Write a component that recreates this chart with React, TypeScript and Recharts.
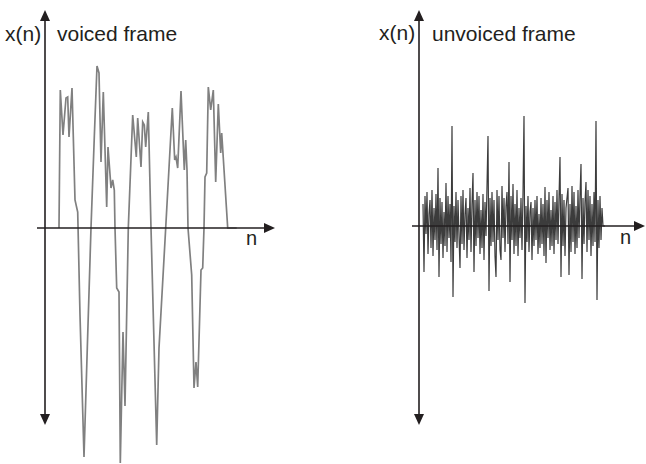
import React from 'react';
import { LineChart, Line, XAxis, YAxis, ReferenceLine } from 'recharts';

// voiced frame: sample position and amplitude
const voicedN = [
  14, 15.3, 18, 21, 22.7, 24, 27, 30, 32.7, 35, 39, 42.3, 46,
  49.3, 52, 54, 56, 58.3, 61.7, 63, 66, 67.7, 69.3, 70, 71.7, 74, 75.3, 78, 80, 83.3,
  87.7, 91.3, 92.7, 96, 97.7, 99.3, 100.7, 103.3, 106, 111.7, 114, 120.7,
  127.3, 129.7, 131, 132.7, 136, 139.3, 140.7, 142, 143, 146.7, 149, 151, 152.7, 156, 157.7, 159,
  160, 161.7, 163.3, 165.7, 168.3, 170.7, 173.3, 175.7, 176.7, 182.7, 191.7,
];
const voicedAmp = [
  0, 138, 93, 130, 131, 91, 140, 28, 16, -87, -229, -120, 0,
  91, 162, 155, 66, 136, 21, 81, 40, 48, 38, 0, -60, -64, -235, -104, -178, 0,
  113, 71, 110, 61, 106, 103, 81, 116, 0, -217, -120, 0,
  120, 68, 71, 60, 137, 58, 88, 58, 0, -47, -160, -134, -159, -42, -40, 0,
  51, 55, 141, 118, 138, 46, 124, 75, 95, 0, 0,
];

// unvoiced frame: one value per sample, starting at sample 4
const unvoicedStart = 4;
const unvoicedAmp = [
  22, -46, 30, -8, 34, -28, 12, 26, -22, 36,
  -30, 18, -14, 32, -24, 58, -51, 28, -18, 24,
  -32, 14, -20, 43, -26, 30, -12, 22, -36, 100,
  -71, 20, -16, 34, -22, 26, -10, -42, 30, -18,
  36, -24, 12, 28, -32, 18, -14, 38, -26, 22,
  53, -46, 26, -20, 34, -12, 30, -28, 16, -22,
  32, -34, 24, -10, 40, 90, -65, 28, -20, 34,
  -16, 26, -30, -51, 36, -14, 30, -24, -34, 40,
  -12, 28, -26, 20, 34, -18, 64, -56, 30, -14,
  42, -28, 22, -20, 36, -30, 18, -12, 28, -24,
  32, 110, -77, 20, -16, 30, -26, 14, 24, -34,
  18, -20, 26, -14, 30, -28, 12, -22, 28, -18,
  22, -30, 39, -37, 26, -12, 34, -24, 16, -20,
  30, -28, 24, -14, 36, -18, 28, 69, -51, 32,
  -20, 26, -30, 18, 28, 38, -49, 22, -26, 40,
  -16, 34, -28, 20, -22, 36, -12, 30, 62, -53,
  28, -18, 24, 44, -26, 36, -14, 30, -30, 22,
  -20, 34, -16, 105, -74, 26, -22, 30, -14, 18,
  0, 0, 0,
];

const voicedData = voicedN.map((n, i) => ({ n, x: voicedAmp[i] }));
const unvoicedData = unvoicedAmp.map((x, i) => ({ n: i + unvoicedStart, x }));

const INK = '#231f20';
const font = '"Liberation Sans", Arial, sans-serif';

const arrowShape = (atStart: boolean, atEnd: boolean) => (props: any) => {
  const { x1, y1, x2, y2 } = props;
  const len = Math.hypot(x2 - x1, y2 - y1) || 1;
  const ux = (x2 - x1) / len;
  const uy = (y2 - y1) / len;
  const head = 11;
  const half = 5;
  const tri = (tx: number, ty: number, dx: number, dy: number) => {
    const bx = tx - dx * head;
    const by = ty - dy * head;
    return `${tx},${ty} ${bx - dy * half},${by + dx * half} ${bx + dy * half},${by - dx * half}`;
  };
  const sx = atStart ? x1 + ux * (head - 1) : x1;
  const sy = atStart ? y1 + uy * (head - 1) : y1;
  const ex = atEnd ? x2 - ux * (head - 1) : x2;
  const ey = atEnd ? y2 - uy * (head - 1) : y2;
  return (
    <g>
      <line x1={sx} y1={sy} x2={ex} y2={ey} stroke={INK} strokeWidth={1.6} />
      {atStart && <polygon points={tri(x1, y1, -ux, -uy)} fill={INK} />}
      {atEnd && <polygon points={tri(x2, y2, ux, uy)} fill={INK} />}
    </g>
  );
};

const label = (text: string, left: number, top: number, size = 21) => (
  <div
    style={{
      position: 'absolute',
      left,
      top,
      fontFamily: font,
      fontSize: size,
      lineHeight: `${size}px`,
      color: INK,
      whiteSpace: 'nowrap',
    }}
  >
    {text}
  </div>
);

export default function App() {
  return (
    <div style={{ position: 'fixed', left: 0, top: 0, width: 646, height: 464, background: '#fff' }}>
      {/* voiced frame */}
      <div style={{ position: 'absolute', left: 0, top: 0 }}>
        <LineChart width={300} height={464} data={voicedData} margin={{ top: 0, right: 0, bottom: 0, left: 0 }}>
          <XAxis hide type="number" dataKey="n" domain={[-45, 255]} allowDataOverflow />
          <YAxis hide type="number" domain={[-236, 228]} allowDataOverflow />
          <Line
            type="linear"
            dataKey="x"
            stroke="#808080"
            strokeWidth={1.7}
            dot={false}
            activeDot={false}
            isAnimationActive={false}
          />
          <ReferenceLine
            segment={[{ x: -8, y: 0 }, { x: 230, y: 0 }]}
            ifOverflow="visible"
            shape={arrowShape(false, true)}
          />
          <ReferenceLine
            segment={[{ x: 0, y: 218 }, { x: 0, y: -197 }]}
            ifOverflow="visible"
            shape={arrowShape(true, true)}
          />
        </LineChart>
      </div>

      {/* unvoiced frame */}
      <div style={{ position: 'absolute', left: 346, top: 0 }}>
        <LineChart width={300} height={464} data={unvoicedData} margin={{ top: 0, right: 0, bottom: 0, left: 0 }}>
          <XAxis hide type="number" dataKey="n" domain={[-73, 227]} allowDataOverflow />
          <YAxis hide type="number" domain={[-238, 226]} allowDataOverflow />
          <Line
            type="linear"
            dataKey="x"
            stroke="#3c3c3c"
            strokeWidth={1.2}
            dot={false}
            activeDot={false}
            isAnimationActive={false}
          />
          <ReferenceLine
            segment={[{ x: -7, y: 0 }, { x: 226, y: 0 }]}
            ifOverflow="visible"
            shape={arrowShape(false, true)}
          />
          <ReferenceLine
            segment={[{ x: 0, y: 216 }, { x: 0, y: -199 }]}
            ifOverflow="visible"
            shape={arrowShape(true, true)}
          />
        </LineChart>
      </div>

      {label('x(n)', 5, 23)}
      {label('voiced frame', 57, 23)}
      {label('n', 246, 228, 20)}
      {label('x(n)', 379, 22)}
      {label('unvoiced frame', 432, 23)}
      {label('n', 620, 227, 20)}
    </div>
  );
}
